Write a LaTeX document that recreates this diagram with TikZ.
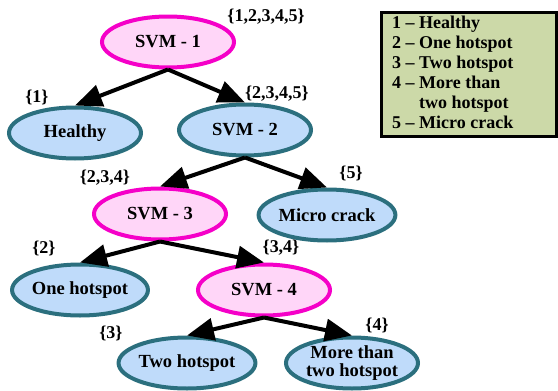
\documentclass[tikz,border=0pt]{standalone}
\usepackage{fontspec}
\setmainfont{Liberation Serif}[BoldFont={Liberation Serif Bold}]
\usetikzlibrary{shapes.geometric,arrows.meta}
\definecolor{pinkfill}{HTML}{FFD6F8}
\definecolor{pinkline}{HTML}{F500C8}
\definecolor{bluefill}{HTML}{BFDBFA}
\definecolor{blueline}{HTML}{2B6F7E}
\definecolor{legfill}{HTML}{CCD9A8}
\tikzset{
  ell/.style={ellipse, line width=4pt, inner sep=0pt, minimum width=132pt, minimum height=51pt,
    font=\fontsize{18.5}{18.5}\selectfont\bfseries, align=center},
  svm/.style={ell, draw=pinkline, fill=pinkfill},
  leaf/.style={ell, draw=blueline, fill=bluefill},
  setlbl/.style={font=\fontsize{18}{18}\selectfont\bfseries, inner sep=0pt},
  legtxt/.style={font=\fontsize{18}{18}\selectfont\bfseries, inner sep=0pt, anchor=base west},
  arr/.style={line width=4pt, -{Triangle[length=27pt,width=22pt]}}
}
\begin{document}
\begin{tikzpicture}[x=1pt,y=-1pt]
\useasboundingbox (0,0) rectangle (558,391);
% nodes
\node[svm]  (s1) at (168,42) {SVM - 1};
\node[leaf] (h)  at (75,133) {Healthy};
\node[leaf] (s2) at (245,130) {SVM - 2};
\node[svm]  (s3) at (160,214) {SVM - 3};
\node[leaf] (mc) at (327,215) {Micro crack};
\node[leaf] (oh) at (80,290) {One hotspot};
\node[svm]  (s4) at (264,290) {SVM - 4};
\node[leaf] (th) at (187,363) {Two hotspot};
\node[leaf] (mt) at (352,363) {More than\\two hotspot};
% set labels
\node[setlbl] (l1) at (266,17) {\{1,2,3,4,5\}};
\node[setlbl] (l2) at (37,97) {\{1\}};
\node[setlbl] (l3) at (277,94) {\{2,3,4,5\}};
\node[setlbl] (l4) at (105,178) {\{2,3,4\}};
\node[setlbl] (l5) at (351,173) {\{5\}};
\node[setlbl] (l6) at (44,248) {\{2\}};
\node[setlbl] (l7) at (281,248) {\{3,4\}};
\node[setlbl] (l8) at (111,333) {\{3\}};
\node[setlbl] (l9) at (377,325) {\{4\}};
% arrows
\draw[arr] (s1.south) -- (h.north);
\draw[arr] (s1.south) -- (s2.north);
\draw[arr] (s2.south) -- (s3.north);
\draw[arr] (s2.south) -- (mc.north);
\draw[arr] (s3.south) -- (oh.north);
\draw[arr] (s3.south) -- (s4.north);
\draw[arr] (s4.south) -- (th.north);
\draw[arr] (s4.south) -- (mt.north);
% legend
\node[draw=black, line width=3pt, fill=legfill, minimum width=175pt, minimum height=124pt, inner sep=0pt]
  (leg) at (468.5,74) {};
\node[legtxt] (g1) at (392,28) {1 – Healthy};
\node[legtxt] (g2) at (392,48) {2 – One hotspot};
\node[legtxt] (g3) at (392,68) {3 – Two hotspot};
\node[legtxt] (g4) at (392,88) {4 – More than};
\node[legtxt] (g5) at (392,108) {\phantom{4 – }two hotspot};
\node[legtxt] (g6) at (392,128) {5 – Micro crack};
\end{tikzpicture}
\end{document}
